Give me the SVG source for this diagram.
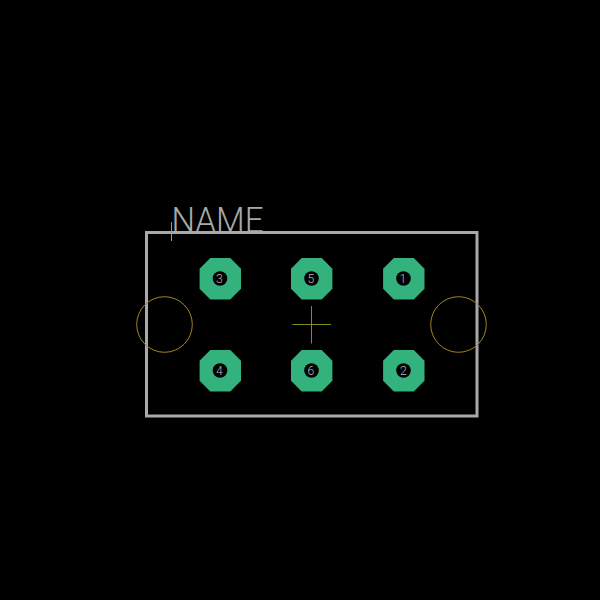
<svg xmlns="http://www.w3.org/2000/svg" width="600" height="600" viewBox="0 0 600 600">
<defs>
<style>
.pad{fill:#34b27d}
.hole{fill:#000}
.num{fill:#b8b8b8;font-family:Roboto,"Liberation Sans",Arial,sans-serif;font-weight:300;font-size:12.2px;text-anchor:middle}
.outline{fill:none;stroke:#a9a9a9;stroke-width:3}
.thin{fill:none;stroke-width:1}
</style>
<polygon id="oct" points="-10,-20.7 10,-20.7 20.7,-10 20.7,10 10,20.7 -10,20.7 -20.7,10 -20.7,-10"/>
</defs>
<rect width="600" height="600" fill="#000"/>
<g id="body">
<rect class="outline" x="146.500" y="232.500" width="330.500" height="183.500"/>
<circle class="thin" cx="164.500" cy="324.500" r="27.800" stroke="#a5831f"/>
<circle class="thin" cx="458.500" cy="324.500" r="27.800" stroke="#a5831f"/>
<path class="thin" stroke="#85891f" d="M292.500 324.500H331M311.500 306V343.500"/>
<path class="thin" stroke="#9a9a9a" d="M171.500 222V241"/>
<text x="171.500" y="232" fill="#a9a9a9" font-family="Roboto,'Liberation Sans',Arial,sans-serif" font-weight="300" font-size="35px" textLength="92" lengthAdjust="spacingAndGlyphs">NAME</text>
</g>
<g id="pad3"><use href="#oct" class="pad" x="220.300" y="278.700"/><circle class="hole" cx="220" cy="278.500" r="7.300"/><text class="num" x="219.300" y="282.700">3</text></g>
<g id="pad5"><use href="#oct" class="pad" x="311.700" y="278.700"/><circle class="hole" cx="311.500" cy="278.500" r="7.300"/><text class="num" x="311" y="282.700">5</text></g>
<g id="pad1"><use href="#oct" class="pad" x="403.800" y="278.700"/><circle class="hole" cx="403.500" cy="278.500" r="7.300"/><text class="num" x="403" y="282.700">1</text></g>
<g id="pad4"><use href="#oct" class="pad" x="220.300" y="370.800"/><circle class="hole" cx="220" cy="370.500" r="7.300"/><text class="num" x="219.300" y="374.800">4</text></g>
<g id="pad6"><use href="#oct" class="pad" x="311.700" y="370.800"/><circle class="hole" cx="311.500" cy="370.500" r="7.300"/><text class="num" x="311" y="374.800">6</text></g>
<g id="pad2"><use href="#oct" class="pad" x="403.800" y="370.800"/><circle class="hole" cx="403.500" cy="370.500" r="7.300"/><text class="num" x="403.300" y="374.800">2</text></g>
<g id="connectors"></g>
</svg>
